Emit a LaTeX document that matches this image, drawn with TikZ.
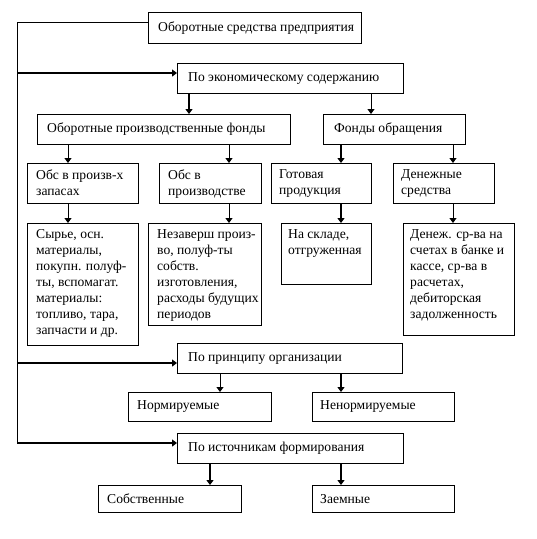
\documentclass[tikz,border=0pt]{standalone}
\usepackage{fontspec}
\setmainfont{Liberation Serif}
\usetikzlibrary{arrows.meta,calc}
\newcommand\mybox[5]{%
  \node[box, anchor=north west, minimum width={(#4-#2)*1pt}, minimum height={(#5-#3)*1pt}] (#1) at (#2,#3) {};}
\newcommand\onetext[3]{%
  \node[txt, anchor=west] (#1t) at ([xshift=#2pt]#1.west) {#3};}
\newcommand\multitext[3]{%
  \node[txt, anchor=north west] (#1t) at ([xshift=#2pt,yshift=-6.5pt]#1.north west) {#3};}
\begin{document}
\begin{tikzpicture}[x=1pt,y=-1pt,
  box/.style={draw, line width=1pt, inner sep=0pt, fill=white},
  txt/.style={inner sep=0pt, align=left, font=\fontsize{13.6}{16}\selectfont},
  thinarr/.style={line width=1pt, -{Triangle[length=5pt,width=7pt]}},
  thickarr/.style={line width=2.4pt, -{Triangle[length=5pt,width=7pt]}},
  spine/.style={line width=1pt}]
\fill[white] (0,0) rectangle (537,539);
\useasboundingbox (0,0) rectangle (537,539);

% boxes
\mybox{top}{148}{12}{361}{43}
\mybox{econ}{177}{63}{403}{93}
\mybox{opf}{37}{114}{290}{144}
\mybox{fo}{323}{114}{465}{144}
\mybox{obsa}{27}{163}{138}{203}
\mybox{obsb}{159}{163}{261}{203}
\mybox{gp}{271}{163}{371}{203}
\mybox{ds}{393}{163}{494}{203}
\mybox{syr}{27}{223}{138}{345}
\mybox{nez}{148}{223}{261}{325}
\mybox{skl}{281}{223}{371}{284}
\mybox{den}{403}{223}{514}{335}
\mybox{prin}{177}{343}{402}{373}
\mybox{norm}{128}{392}{271}{421}
\mybox{nenorm}{312}{392}{454}{421}
\mybox{ist}{177}{433}{403}{463}
\mybox{sob}{98}{485}{241}{512}
\mybox{zaem}{312}{485}{454}{512}

% texts
\onetext{top}{10}{Оборотные средства предприятия}
\onetext{econ}{11}{По экономическому содержанию}
\onetext{opf}{10}{Оборотные производственные фонды}
\onetext{fo}{11}{Фонды обращения}
\multitext{obsa}{9}{Обс в произв-х\\запасах}
\multitext{obsb}{9}{Обс в\\производстве}
\multitext{gp}{8}{Готовая\\продукция}
\multitext{ds}{8}{Денежные\\средства}
\multitext{syr}{9}{Сырье, осн.\\материалы,\\покупн. полуф-\\ты, вспомагат.\\материалы:\\топливо, тара,\\запчасти и др.}
\multitext{nez}{9}{Незаверш произ-\\во, полуф-ты\\собств.\\изготовления,\\расходы будущих\\периодов}
\multitext{skl}{7}{На складе,\\отгруженная}
\multitext{den}{7}{Денеж. ср-ва на\\счетах в банке и\\кассе, ср-ва в\\расчетах,\\дебиторская\\задолженность}
\onetext{prin}{11}{По принципу организации}
\onetext{norm}{9}{Нормируемые}
\onetext{nenorm}{8}{Ненормируемые}
\onetext{ist}{11}{По источникам формирования}
\onetext{sob}{9}{Собственные}
\onetext{zaem}{8}{Заемные}

% column coordinates
\coordinate (ca) at (68,0);
\coordinate (cb) at (189,0);
\coordinate (cc) at (210,0);
\coordinate (cd) at (220,0);
\coordinate (ce) at (229,0);
\coordinate (cf) at (341,0);
\coordinate (cg) at (371,0);
\coordinate (ch) at (453,0);

% spine
\coordinate (s0) at (17,22);
\coordinate (s1) at (17,73);
\coordinate (s2) at (17,363);
\coordinate (s3) at (17,443);
\draw[spine] (s0 -| top.west) -- (s0) -- (s3);
\draw[thickarr] (s1) -- (s1 -| econ.west);
\draw[thickarr] (s2) -- (s2 -| prin.west);
\draw[thickarr] (s3) -- (s3 -| ist.west);

% vertical arrows
\draw[thickarr] (econ.south -| cb) -- (opf.north -| cb);
\draw[thinarr] (econ.south -| cg) -- (fo.north -| cg);
\draw[thinarr] (opf.south -| ca) -- (obsa.north -| ca);
\draw[thinarr] (opf.south -| ce) -- (obsb.north -| ce);
\draw[thickarr] (fo.south -| cf) -- (gp.north -| cf);
\draw[thinarr] (fo.south -| ch) -- (ds.north -| ch);
\draw[thinarr] (obsa.south -| ca) -- (syr.north -| ca);
\draw[thinarr] (obsb.south -| ce) -- (nez.north -| ce);
\draw[thickarr] (gp.south -| cf) -- (skl.north -| cf);
\draw[thinarr] (ds.south -| ch) -- (den.north -| ch);
\draw[thinarr] (prin.south -| cd) -- (norm.north -| cd);
\draw[thickarr] (prin.south -| cf) -- (nenorm.north -| cf);
\draw[thickarr] (ist.south -| cc) -- (sob.north -| cc);
\draw[thickarr] (ist.south -| cf) -- (zaem.north -| cf);
\end{tikzpicture}
\end{document}
